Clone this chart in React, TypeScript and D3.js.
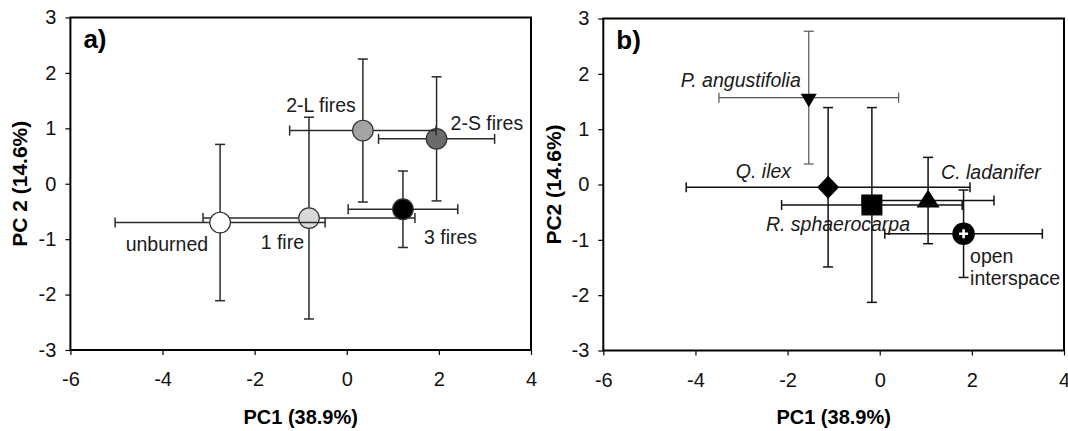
import React, { useEffect, useRef } from 'react';
import * as d3 from 'd3';

// panel a: fire recurrence groups (mean ± sd on PC1/PC2)
const fireGroups = ['1 fire', 'unburned', '3 fires', '2-S fires', '2-L fires'];
const firePc1 = [-0.82, -2.75, 1.22, 1.95, 0.35];
const firePc1Err = [2.3, 2.28, 1.19, 1.26, 1.59];
const firePc2 = [-0.62, -0.7, -0.46, 0.81, 0.96];
const firePc2Err = [1.82, 1.41, 0.69, 1.12, 1.29];

// panel b: microsites
const sites = ['C. ladanifer', 'R. sphaerocarpa', 'Q. ilex', 'P. angustifolia', 'open interspace'];
const sitePc1 = [1.05, -0.17, -1.12, -1.54, 1.82];
const sitePc1Err = [1.43, 1.96, 3.08, 1.95, 1.71];
const sitePc2 = [-0.29, -0.37, -0.05, 1.57, -0.89];
const sitePc2Err = [0.78, 1.76, 1.44, 1.2, 0.79];

const xTicks = [-6, -4, -2, 0, 2, 4];
const yTicks = [-3, -2, -1, 0, 1, 2, 3];

const FONT = '"Liberation Sans", Arial, Helvetica, sans-serif';
const W = 1068;
const H = 431;

type Box = { left: number; right: number; top: number; bottom: number };
type Label = { lines: string[]; anchor: string; dx: number; dy: number };

const boxA: Box = { left: 70.4, right: 531, top: 17.5, bottom: 350 };
const boxB: Box = { left: 603.3, right: 1064, top: 18.5, bottom: 350.5 };

const fireFill: Record<string, string> = {
  unburned: '#ffffff',
  '1 fire': '#d9d9d9',
  '2-L fires': '#a3a3a3',
  '2-S fires': '#6b6b6b',
  '3 fires': '#000000',
};

const fireLabels: Record<string, Label> = {
  unburned: { lines: ['unburned'], anchor: 'end', dx: -12, dy: 28 },
  '1 fire': { lines: ['1 fire'], anchor: 'end', dx: -5, dy: 30.5 },
  '2-L fires': { lines: ['2-L fires'], anchor: 'end', dx: -7, dy: -18.5 },
  '2-S fires': { lines: ['2-S fires'], anchor: 'start', dx: 14, dy: -9 },
  '3 fires': { lines: ['3 fires'], anchor: 'start', dx: 21, dy: 35 },
};

const siteLabels: Record<string, Label> = {
  'P. angustifolia': { lines: ['P. angustifolia'], anchor: 'end', dx: -8, dy: -11 },
  'Q. ilex': { lines: ['Q. ilex'], anchor: 'end', dx: -37, dy: -9 },
  'R. sphaerocarpa': { lines: ['R. sphaerocarpa'], anchor: 'start', dx: -106, dy: 26 },
  'C. ladanifer': { lines: ['C. ladanifer'], anchor: 'start', dx: 13, dy: -22 },
  'open interspace': { lines: ['open', 'interspace'], anchor: 'start', dx: 6.5, dy: 29.5 },
};

// marker outlines around (0,0)
const siteMarker: Record<string, string> = {
  'P. angustifolia': 'M-8,-4L8,-4L0,9.5Z',
  'Q. ilex': 'M0,-11.5L11,0L0,11.5L-11,0Z',
  'R. sphaerocarpa': 'M-10.5,-10.5h21v21h-21Z',
  'C. ladanifer': 'M0,-11L11.5,7L-11.5,7Z',
};

function drawAxes(
  svg: d3.Selection<SVGSVGElement, unknown, null, undefined>,
  box: Box,
  x: d3.ScaleLinear<number, number>,
  y: d3.ScaleLinear<number, number>,
  tag: string,
  yTitle: string,
  yTitleX: number
) {
  const xa = svg
    .append('g')
    .attr('transform', `translate(0,${box.bottom})`)
    .call(d3.axisBottom(x).tickValues(xTicks).tickSize(5).tickPadding(17).tickFormat(d => String(d)));
  xa.select('.domain').remove();
  xa.attr('font-size', 20).attr('font-family', FONT);
  xa.selectAll('line').attr('stroke', '#000').attr('stroke-width', 1.2);
  xa.selectAll('text').attr('fill', '#111');

  const ya = svg
    .append('g')
    .attr('transform', `translate(${box.left},0)`)
    .call(d3.axisLeft(y).tickValues(yTicks).tickSize(5).tickPadding(9).tickFormat(d => String(d)));
  ya.select('.domain').remove();
  ya.attr('font-size', 20).attr('font-family', FONT);
  ya.selectAll('line').attr('stroke', '#000').attr('stroke-width', 1.2);
  ya.selectAll('text').attr('fill', '#111');

  svg
    .append('rect')
    .attr('x', box.left)
    .attr('y', box.top)
    .attr('width', box.right - box.left)
    .attr('height', box.bottom - box.top)
    .attr('fill', 'none')
    .attr('stroke', '#000')
    .attr('stroke-width', 2);

  svg
    .append('text')
    .attr('x', box.left + 13)
    .attr('y', box.top + 30)
    .attr('font-family', FONT)
    .attr('font-weight', 'bold')
    .attr('font-size', 26)
    .text(tag);

  svg
    .append('text')
    .attr('x', (box.left + box.right) / 2)
    .attr('y', 424)
    .attr('text-anchor', 'middle')
    .attr('font-family', FONT)
    .attr('font-weight', 'bold')
    .attr('font-size', 20)
    .text('PC1 (38.9%)');

  svg
    .append('text')
    .attr('transform', `translate(${yTitleX},${(box.top + box.bottom) / 2}) rotate(-90)`)
    .attr('text-anchor', 'middle')
    .attr('font-family', FONT)
    .attr('font-weight', 'bold')
    .attr('font-size', 21)
    .text(yTitle);
}

function errorBars(
  g: d3.Selection<SVGGElement, unknown, null, undefined>,
  cx: number,
  cy: number,
  x0: number,
  x1: number,
  y0: number,
  y1: number,
  color: string,
  width: number
) {
  const cap = 5;
  const segs = [
    [x0, cy, x1, cy],
    [x0, cy - cap, x0, cy + cap],
    [x1, cy - cap, x1, cy + cap],
    [cx, y0, cx, y1],
    [cx - cap, y0, cx + cap, y0],
    [cx - cap, y1, cx + cap, y1],
  ];
  segs.forEach(s => {
    g.append('line')
      .attr('x1', s[0])
      .attr('y1', s[1])
      .attr('x2', s[2])
      .attr('y2', s[3])
      .attr('stroke', color)
      .attr('stroke-width', width);
  });
}

function addLabel(
  g: d3.Selection<SVGGElement, unknown, null, undefined>,
  px: number,
  py: number,
  lab: Label,
  italic: boolean
) {
  const t = g
    .append('text')
    .attr('x', px + lab.dx)
    .attr('y', py + lab.dy)
    .attr('text-anchor', lab.anchor)
    .attr('font-family', FONT)
    .attr('font-size', 19.5)
    .attr('font-style', italic ? 'italic' : 'normal')
    .attr('fill', '#1a1a1a');
  lab.lines.forEach((line, i) => {
    t.append('tspan')
      .attr('x', px + lab.dx)
      .attr('dy', i === 0 ? 0 : 21.5)
      .text(line);
  });
}

const App: React.FC = () => {
  const svgRef = useRef<SVGSVGElement | null>(null);

  useEffect(() => {
    const svg = d3.select(svgRef.current!);
    svg.selectAll('*').remove();

    // ---- panel a ----
    const xA = d3.scaleLinear().domain([-6, 4]).range([boxA.left, boxA.right]);
    const yA = d3.scaleLinear().domain([-3, 3]).range([boxA.bottom, boxA.top]);
    drawAxes(svg, boxA, xA, yA, 'a)', 'PC 2 (14.6%)', 27);

    const gA = svg.append('g');
    fireGroups.forEach((name, i) => {
      const cx = xA(firePc1[i]);
      const cy = yA(firePc2[i]);
      const g = gA.append('g');
      errorBars(
        g,
        cx,
        cy,
        xA(firePc1[i] - firePc1Err[i]),
        xA(firePc1[i] + firePc1Err[i]),
        yA(firePc2[i] + firePc2Err[i]),
        yA(firePc2[i] - firePc2Err[i]),
        '#2b2b2b',
        1.5
      );
      g.append('circle')
        .attr('cx', cx)
        .attr('cy', cy)
        .attr('r', 10.3)
        .attr('fill', fireFill[name])
        .attr('stroke', '#333')
        .attr('stroke-width', 1.2);
    });
    fireGroups.forEach((name, i) => {
      addLabel(gA, xA(firePc1[i]), yA(firePc2[i]), fireLabels[name], false);
    });

    // ---- panel b ----
    const xB = d3.scaleLinear().domain([-6, 4]).range([boxB.left, boxB.right]);
    const yB = d3.scaleLinear().domain([-3, 3]).range([boxB.bottom, boxB.top]);
    drawAxes(svg, boxB, xB, yB, 'b)', 'PC2 (14.6%)', 561);

    const gB = svg.append('g');
    sites.forEach((name, i) => {
      addLabel(gB, xB(sitePc1[i]), yB(sitePc2[i]), siteLabels[name], name !== 'open interspace');
    });
    sites.forEach((name, i) => {
      const cx = xB(sitePc1[i]);
      const cy = yB(sitePc2[i]);
      const g = gB.append('g');
      const grey = name === 'P. angustifolia';
      errorBars(
        g,
        cx,
        cy,
        xB(sitePc1[i] - sitePc1Err[i]),
        xB(sitePc1[i] + sitePc1Err[i]),
        yB(sitePc2[i] + sitePc2Err[i]),
        yB(sitePc2[i] - sitePc2Err[i]),
        grey ? '#555' : '#111',
        grey ? 1.2 : 1.5
      );
      if (name === 'open interspace') {
        g.append('circle').attr('cx', cx).attr('cy', cy).attr('r', 11.3).attr('fill', '#000');
        g.append('path')
          .attr('d', `M${cx - 4.5},${cy}h9M${cx},${cy - 4.5}v9`)
          .attr('stroke', '#fff')
          .attr('stroke-width', 2.6);
      } else {
        g.append('path')
          .attr('transform', `translate(${cx},${cy})`)
          .attr('d', siteMarker[name])
          .attr('fill', '#000');
      }
    });
  }, []);

  return (
    <svg
      ref={svgRef}
      width={W}
      height={H}
      style={{ position: 'absolute', left: 0, top: 0, background: '#fff' }}
    />
  );
};

export default App;
